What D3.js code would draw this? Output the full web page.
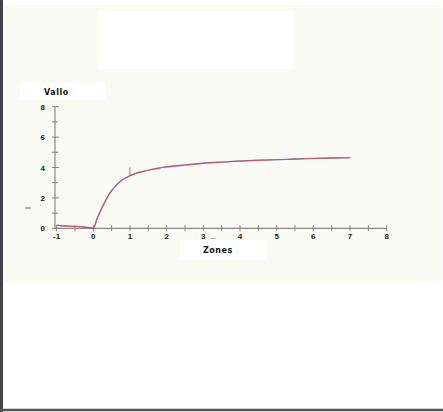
<!DOCTYPE html>
<html><head><meta charset="utf-8">
<script src="https://cdn.jsdelivr.net/npm/d3@7"></script>
<style>html,body{margin:0;padding:0;background:#fff;}svg{display:block;}</style>
</head><body>
<svg id="c" width="443" height="412"></svg>
<script>
const xTicks = [-1,0,1,2,3,4,5,6,7,8];
const yTicks = [0,2,4,6,8];
const yLabel = "Vallo";
const xLabel = "Zones";
const seriesX = [-1,-0.75,-0.5,-0.25,0,0.1,0.2,0.3,0.45,0.6,0.75,1,1.25,1.5,1.8,2,2.5,3,3.5,4,4.5,5,5.5,6,6.5,7];
const seriesRed = [0.18,0.14,0.12,0.08,0.0,0.6,1.15,1.65,2.3,2.75,3.1,3.45,3.68,3.82,3.96,4.03,4.16,4.27,4.35,4.42,4.47,4.51,4.55,4.59,4.62,4.64];
const seriesBlue = [0.2,0.16,0.13,0.09,0.02,0.62,1.17,1.67,2.32,2.77,3.12,3.46,3.69,3.83,3.97,4.04,4.17,4.28,4.36,4.43,4.48,4.52,4.56,4.6,4.63,4.65];

const svg = d3.select("#c");
// frame
svg.append("rect").attr("x",4).attr("y",5).attr("width",438).attr("height",278).attr("fill","#fbfbf5");
svg.append("line").attr("x1",1.5).attr("x2",1.5).attr("y1",0).attr("y2",412).attr("stroke","#444").attr("stroke-width",3);
svg.append("line").attr("x1",0).attr("x2",443).attr("y1",410).attr("y2",410).attr("stroke","#555").attr("stroke-width",2.5);
// white boxes
svg.append("rect").attr("x",99).attr("y",11).attr("width",194).attr("height",58).attr("fill","#fff");
svg.append("rect").attr("x",20).attr("y",83).attr("width",85).attr("height",17).attr("fill","#fff");
svg.append("rect").attr("x",180).attr("y",240).attr("width",86).attr("height",20).attr("fill","#fff");

const x = d3.scaleLinear().domain([0,8]).range([93.3,386.7]);
const y = d3.scaleLinear().domain([0,8]).range([228.3,106.7]);

const axColor = "#888";
// x axis
const gx = svg.append("g");
gx.append("line").attr("x1",x(-1)-2).attr("x2",x(8)).attr("y1",y(0)).attr("y2",y(0)).attr("stroke",axColor).attr("stroke-width",1.2);
const xMinor = d3.range(-1,8.01,0.5);
gx.selectAll(".xt").data(xMinor).enter().append("line")
  .attr("x1",d=>x(d)).attr("x2",d=>x(d)).attr("y1",y(0)-3).attr("y2",y(0)+3)
  .attr("stroke",axColor).attr("stroke-width",1);
gx.selectAll(".xl").data(xTicks).enter().append("text")
  .attr("x",d=>x(d)).attr("y",y(0)+11).attr("text-anchor","middle")
  .attr("font-family","Liberation Sans, Arial, sans-serif").attr("font-weight","bold").attr("font-size",8)
  .attr("fill","#222").text(d=>d);
// y axis
const gy = svg.append("g");
gy.append("line").attr("x1",55).attr("x2",55).attr("y1",y(8)).attr("y2",y(0)).attr("stroke",axColor).attr("stroke-width",1.2);
const yMinor = d3.range(0,8.01,1);
gy.selectAll(".yt").data(yMinor).enter().append("line")
  .attr("x1",52).attr("x2",d=>d%2===0?59:58).attr("y1",d=>y(d)).attr("y2",d=>y(d))
  .attr("stroke",axColor).attr("stroke-width",1);
gy.selectAll(".yl").data(yTicks).enter().append("text")
  .attr("x",45).attr("y",d=>y(d)+3).attr("text-anchor","end")
  .attr("font-family","Liberation Sans, Arial, sans-serif").attr("font-weight","bold").attr("font-size",8)
  .attr("fill","#222").text(d=>d);

// labels
svg.append("text").attr("x",44).attr("y",95).attr("font-family","DejaVu Sans, sans-serif").attr("font-weight","bold")
  .attr("font-size",8).attr("fill","#111").attr("letter-spacing",0.5).text(yLabel);
svg.append("text").attr("x",203).attr("y",253).attr("font-family","DejaVu Sans, sans-serif").attr("font-weight","bold")
  .attr("font-size",8).attr("fill","#111").attr("letter-spacing",0.5).text(xLabel);

// small marks
svg.append("line").attr("x1",25).attr("x2",31).attr("y1",208).attr("y2",208).attr("stroke","#a07060").attr("stroke-width",1.2);
svg.append("line").attr("x1",210).attr("x2",216).attr("y1",238.5).attr("y2",238.5).attr("stroke","#bbb").attr("stroke-width",1);
svg.append("line").attr("x1",x(1)).attr("x2",x(1)).attr("y1",y(4.0)).attr("y2",y(3.5)).attr("stroke","#d06070").attr("stroke-width",1);

// curves
const line = d3.line().x((d,i)=>x(seriesX[i])).y(d=>y(d)).curve(d3.curveMonotoneX);
svg.append("path").datum(seriesBlue).attr("d",line).attr("fill","none").attr("stroke","#6a6ac8").attr("stroke-width",1.3).attr("opacity",0.8);
svg.append("path").datum(seriesRed).attr("d",line).attr("fill","none").attr("stroke","#d04a5a").attr("stroke-width",1.1).attr("opacity",0.85);
</script>
</body></html>
